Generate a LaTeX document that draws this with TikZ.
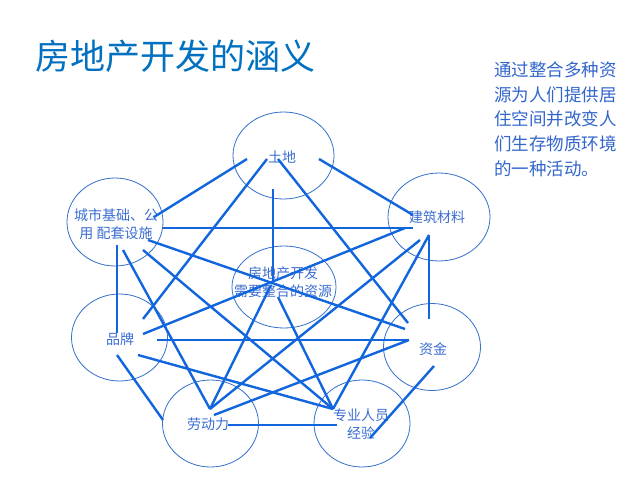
\documentclass[tikz,border=0pt]{standalone}
\usepackage{fontspec}
\setmainfont{Noto Sans CJK SC}
\usetikzlibrary{shapes.geometric}
\definecolor{titleblue}{RGB}{0,112,192}
\definecolor{lineblue}{RGB}{17,102,221}
\definecolor{ringblue}{RGB}{51,112,204}
\definecolor{labelblue}{RGB}{60,110,210}
\definecolor{descblue}{RGB}{51,102,204}
\begin{document}
\begin{tikzpicture}[x=1pt,y=-1pt,
  ring/.style={draw=ringblue, line width=0.8pt, ellipse, inner sep=0pt},
  lbl/.style={text=labelblue, font=\fontsize{14}{18}\selectfont, inner sep=0pt, align=center},
  link/.style={draw=lineblue, line width=2.4pt}]
\useasboundingbox (0,0) rectangle (640,480);
\fill[white] (0,0) rectangle (640,480);

% title and description
\node[anchor=base west, inner sep=0pt, text=titleblue, font=\fontsize{35}{40}\selectfont] (title) at (35,69) {房地产开发的涵义};
\node[anchor=base west, inner sep=0pt, text=descblue, align=left, font=\fontsize{17.5}{24.6}\selectfont] (desc) at (494,175)
  {通过整合多种资\\源为人们提供居\\住空间并改变人\\们生存物质环境\\的一种活动。};

% ellipses
\node[ring, minimum width=101pt, minimum height=87pt] (tudiE) at (283.5,155.5) {};
\node[ring, minimum width=96pt, minimum height=88pt] (chengE) at (115,222) {};
\node[ring, minimum width=102pt, minimum height=88pt] (jianE) at (439,217) {};
\node[ring, minimum width=104pt, minimum height=82pt] (fangE) at (284,287) {};
\node[ring, minimum width=96pt, minimum height=87pt] (pinE) at (119.5,337.5) {};
\node[ring, minimum width=97pt, minimum height=87pt] (ziE) at (432,347) {};
\node[ring, minimum width=96pt, minimum height=87pt] (laoE) at (210.5,423.5) {};
\node[ring, minimum width=96pt, minimum height=87pt] (zhuanE) at (362,423.5) {};

% labels
\node[lbl] (tudi) at (282,157) {土地};
\node[lbl] (cheng) at (116,224) {城市基础、公\\用 配套设施};
\node[lbl] (jian) at (437,217) {建筑材料};
\node[lbl] (fang) at (283,282) {房地产开发\\需要整合的资源};
\node[lbl] (pin) at (120,339) {品牌};
\node[lbl] (zi) at (433,349) {资金};
\node[lbl] (lao) at (208,424) {劳动力};
\node[lbl] (zhuan) at (361,424.5) {专业人员\\经验};

% connector end points
\coordinate (t1) at (247,159);
\coordinate (t2) at (267,159);
\coordinate (t3) at (278,159);
\coordinate (t4) at (319,159);
\coordinate (t5) at (273,189);
\coordinate (c1) at (154,217);
\coordinate (c2) at (163,228);
\coordinate (c3) at (148,240);
\coordinate (c4) at (117,245);
\coordinate (c5) at (123,250);
\coordinate (c6) at (143,250);
\coordinate (j1) at (413,215);
\coordinate (j2) at (413,228);
\coordinate (j3) at (405,228);
\coordinate (j4) at (429,235);
\coordinate (j5) at (420,240);
\coordinate (f1) at (273,282);
\coordinate (f2) at (271,285);
\coordinate (f3) at (278,297);
\coordinate (p1) at (143,319);
\coordinate (p2) at (117,333);
\coordinate (p3) at (143,334);
\coordinate (p4) at (157,340);
\coordinate (p5) at (138,355);
\coordinate (p6) at (117,355);
\coordinate (z1) at (429,319);
\coordinate (z2) at (408,323);
\coordinate (z3) at (405,329);
\coordinate (z4) at (409,340);
\coordinate (z5) at (434,366);
\coordinate (l1) at (210,409);
\coordinate (l2) at (214,415);
\coordinate (l3) at (163,420);
\coordinate (l4) at (228,425);
\coordinate (e1) at (333,409);
\coordinate (e2) at (337,425);
\coordinate (e3) at (370,438);

% connectors
\draw[link] (t1) -- (c1);
\draw[link] (t2) -- (p1);
\draw[link] (t3) -- (z2);
\draw[link] (t4) -- (j1);
\draw[link] (t5) -- (f1);
\draw[link] (c2) -- (j2);
\draw[link] (j3) -- (p3);
\draw[link] (c3) -- (z3);
\draw[link] (c4) -- (p2);
\draw[link] (c5) -- (l1);
\draw[link] (c6) -- (e1);
\draw[link] (j4) -- (z1);
\draw[link] (j5) -- (l1);
\draw[link] (j4) -- (e1);
\draw[link] (p4) -- (z4);
\draw[link] (p5) -- (e1);
\draw[link] (p6) -- (l3);
\draw[link] (f2) -- (l1);
\draw[link] (f3) -- (e1);
\draw[link] (z4) -- (l2);
\draw[link] (l4) -- (e2);
\draw[link] (z5) -- (e3);
\end{tikzpicture}
\end{document}
